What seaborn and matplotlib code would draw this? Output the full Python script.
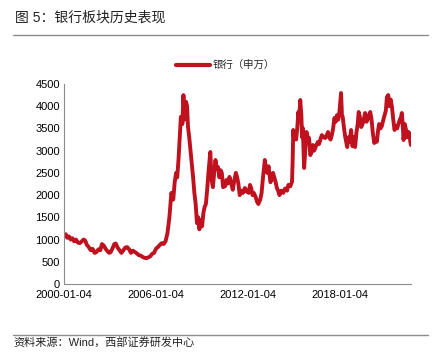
import pandas as pd
import seaborn as sns
import matplotlib
matplotlib.use("Agg")
import matplotlib.pyplot as plt
from matplotlib.lines import Line2D

# Datos: indice 银行（申万）
fechas = [
    "2000-01-04", "2000-02-15", "2000-03-20", "2000-05-01", "2000-06-10", "2000-07-20", "2000-09-01", "2000-10-15", "2000-12-01",
    "2001-01-15", "2001-03-01", "2001-04-15", "2001-05-20", "2001-07-01", "2001-08-15", "2001-10-01", "2001-11-15",
    "2002-01-01", "2002-02-15", "2002-04-01", "2002-05-15", "2002-06-25", "2002-08-10", "2002-09-20", "2002-11-01", "2002-12-15",
    "2003-01-20", "2003-03-01", "2003-04-15", "2003-05-20", "2003-07-01", "2003-08-15", "2003-10-01", "2003-11-15",
    "2004-01-01", "2004-02-15", "2004-04-01", "2004-05-15", "2004-07-01", "2004-08-15", "2004-10-01", "2004-11-15",
    "2005-01-01", "2005-02-15", "2005-04-01", "2005-05-15", "2005-07-01", "2005-08-15", "2005-10-01", "2005-11-15",
    "2006-01-04", "2006-02-15", "2006-04-01", "2006-05-15", "2006-07-01", "2006-08-15", "2006-10-01", "2006-11-15",
    "2007-01-01", "2007-02-15", "2007-03-20", "2007-04-25", "2007-05-20", "2007-06-20", "2007-07-15", "2007-08-15",
    "2007-09-20", "2007-10-15", "2007-11-01", "2007-11-20", "2007-12-15",
    "2008-01-10", "2008-02-01", "2008-03-01", "2008-04-01", "2008-05-01", "2008-06-01", "2008-07-01", "2008-08-01",
    "2008-09-01", "2008-10-01", "2008-10-28", "2008-12-01",
    "2009-01-01", "2009-02-01", "2009-03-01", "2009-04-01", "2009-05-01", "2009-06-01", "2009-07-15", "2009-08-15",
    "2009-09-15", "2009-10-15", "2009-11-15", "2009-12-15",
    "2010-01-15", "2010-02-15", "2010-03-15", "2010-04-15", "2010-05-15", "2010-07-01", "2010-08-01", "2010-09-01",
    "2010-10-15", "2010-11-15",
    "2011-01-01", "2011-02-01", "2011-03-15", "2011-04-15", "2011-05-15", "2011-06-15", "2011-08-01", "2011-09-01",
    "2011-10-15", "2011-12-01",
    "2012-01-15", "2012-02-15", "2012-03-15", "2012-04-15", "2012-05-15", "2012-07-01", "2012-08-01", "2012-09-01",
    "2012-10-15", "2012-11-15", "2012-12-15",
    "2013-02-01", "2013-03-01", "2013-04-01", "2013-05-01", "2013-06-15", "2013-07-15", "2013-08-15", "2013-09-15",
    "2013-10-15", "2013-11-15", "2013-12-15",
    "2014-01-15", "2014-03-01", "2014-04-15", "2014-06-01", "2014-07-15", "2014-08-15", "2014-10-01", "2014-11-10",
    "2014-11-25", "2014-12-10", "2014-12-25",
    "2015-01-20", "2015-02-15", "2015-03-15", "2015-04-10", "2015-05-01", "2015-05-25", "2015-06-20", "2015-07-08",
    "2015-07-25", "2015-08-25", "2015-09-20", "2015-10-20", "2015-11-20", "2015-12-20",
    "2016-01-20", "2016-02-28", "2016-03-20", "2016-04-20", "2016-06-01", "2016-07-15", "2016-08-15", "2016-09-15",
    "2016-10-20", "2016-11-30",
    "2017-01-10", "2017-02-15", "2017-03-15", "2017-04-15", "2017-05-15", "2017-06-15", "2017-07-15", "2017-08-15",
    "2017-09-15", "2017-10-15", "2017-11-15", "2017-12-15",
    "2018-01-20", "2018-02-10", "2018-03-01", "2018-04-01", "2018-05-01", "2018-06-15", "2018-07-15", "2018-08-15",
    "2018-09-15", "2018-10-20", "2018-11-20", "2018-12-20",
    "2019-01-20", "2019-02-20", "2019-03-15", "2019-04-15", "2019-05-15", "2019-06-15", "2019-07-15", "2019-08-15",
    "2019-09-15", "2019-10-15", "2019-11-15", "2019-12-15",
    "2020-01-15", "2020-02-15", "2020-03-20", "2020-04-20", "2020-05-20", "2020-06-20", "2020-07-15", "2020-08-15",
    "2020-09-15", "2020-10-20", "2020-11-20", "2020-12-20",
    "2021-01-15", "2021-02-15", "2021-03-15", "2021-04-15", "2021-05-15", "2021-06-15", "2021-07-15", "2021-08-15",
    "2021-09-15", "2021-10-15", "2021-11-15", "2021-12-15",
    "2022-01-05", "2022-01-25", "2022-02-15", "2022-03-15", "2022-04-15", "2022-05-15", "2022-06-15", "2022-07-10",
    "2022-07-25", "2022-08-10",
]
valores = [
    1100, 1120, 1040, 1070, 1000, 1030, 960, 1000, 930,
    920, 960, 1000, 980, 880, 830, 760, 790,
    700, 720, 780, 760, 900, 860, 790, 740, 700,
    720, 800, 900, 910, 820, 760, 700, 760,
    820, 830, 780, 700, 750, 720, 690, 650,
    640, 610, 590, 580, 600, 620, 680, 700,
    800, 830, 880, 920, 900, 960, 1150, 1500,
    2050, 1900, 2280, 2500, 2400, 2800, 3240, 3760,
    3600, 4250, 3900, 3700, 4100,
    4000, 3530, 3300, 3000, 2720, 2400, 2050, 1800,
    1370, 1500, 1230, 1440,
    1300, 1600, 1730, 1800, 2110, 2500, 2970, 2350,
    2180, 2500, 2790, 2600,
    2630, 2400, 2560, 2500, 2180, 2200, 2340, 2260,
    2410, 2300,
    2120, 2300, 2500, 2400, 2250, 2000, 2100, 2050,
    2160, 2080,
    2050, 2230, 2150, 2000, 2050, 1950, 1850, 1800,
    1900, 2040, 2350,
    2790, 2600, 2500, 2650, 2290, 2350, 2500, 2400,
    2300, 2160, 2100,
    2000, 2100, 2050, 2150, 2100, 2230, 2200, 2300,
    2750, 3465, 3300,
    3420, 3250, 3500, 3870, 3700, 4140, 3800, 3300,
    3510, 2610, 3000, 3420, 3300, 3285,
    2900, 3000, 3127, 3000, 3100, 3195, 3150, 3250,
    3350, 3300,
    3285, 3350, 3420, 3300, 3250, 3352, 3500, 3735,
    3650, 3800, 3700, 3900,
    4297, 3800, 3757, 3500, 3300, 3082, 3300, 3200,
    3465, 3100, 3300, 3082,
    3400, 3600, 3870, 3750, 3532, 3600, 3700, 3847,
    3650, 3700, 3800, 3870,
    3700, 3400, 3172, 3250, 3200, 3465, 3600, 3500,
    3550, 3690, 3800, 3900,
    4207, 4252, 4000, 4150, 3982, 3700, 3465, 3550,
    3500, 3600, 3690, 3750,
    3847, 3600, 3240, 3600, 3465, 3300, 3420, 3350,
    3200, 3127,
]
ticks_x = ["2000-01-04", "2006-01-04", "2012-01-04", "2018-01-04"]
ticks_y = list(range(0, 4501, 500))
serie = "银行（申万）"

df = pd.DataFrame({"fecha": pd.to_datetime(fechas), "valor": valores})

sns.set_style("white")
plt.rcParams["font.family"] = ["Liberation Sans", "Noto Sans CJK SC", "DejaVu Sans"]

rojo = "#C0111F"
gris = "#8C8C8C"

fig = plt.figure(figsize=(4.4, 3.54), dpi=100)
ax = fig.add_axes([0.1455, 0.1977, 0.934 - 0.1455, 0.7627 - 0.1977])
sns.lineplot(data=df, x="fecha", y="valor", ax=ax, color=rojo, linewidth=2.8)

ax.set_xlim(df["fecha"].iloc[0], df["fecha"].iloc[-1])
ax.set_ylim(0, 4500)
ax.set_yticks(ticks_y)
ax.set_xticks(pd.to_datetime(ticks_x))
ax.set_xticklabels(ticks_x)
ax.set_xlabel("")
ax.set_ylabel("")
ax.tick_params(axis="both", direction="in", length=3, color=gris, labelsize=8, colors="black", pad=3)
ax.tick_params(axis="x", pad=4)
for lado in ["top", "right"]:
    ax.spines[lado].set_visible(False)
for lado in ["left", "bottom"]:
    ax.spines[lado].set_color(gris)
    ax.spines[lado].set_linewidth(0.8)

# Leyenda
manejador = Line2D([0], [0], color=rojo, linewidth=3)
fig.legend([manejador], [serie], loc="center", bbox_to_anchor=(0.513, 0.816),
           frameon=False, handlelength=3.2, handletextpad=0.3, fontsize=7.5)

# Titulo, fuente y lineas separadoras
fig.text(15 / 440, 1 - 18 / 354, "图 5：银行板块历史表现", fontsize=10, va="center", ha="left", color="#222222")
fig.text(13 / 440, 1 - 342 / 354, "资料来源：Wind，西部证券研发中心", fontsize=8, va="center", ha="left", color="#222222")
fig.add_artist(Line2D([13 / 440, 428 / 440], [1 - 35 / 354, 1 - 35 / 354], color=gris, linewidth=1.0))
fig.add_artist(Line2D([13 / 440, 428 / 440], [1 - 335 / 354, 1 - 335 / 354], color=gris, linewidth=1.0))

fig.savefig("out.png", dpi=100)
